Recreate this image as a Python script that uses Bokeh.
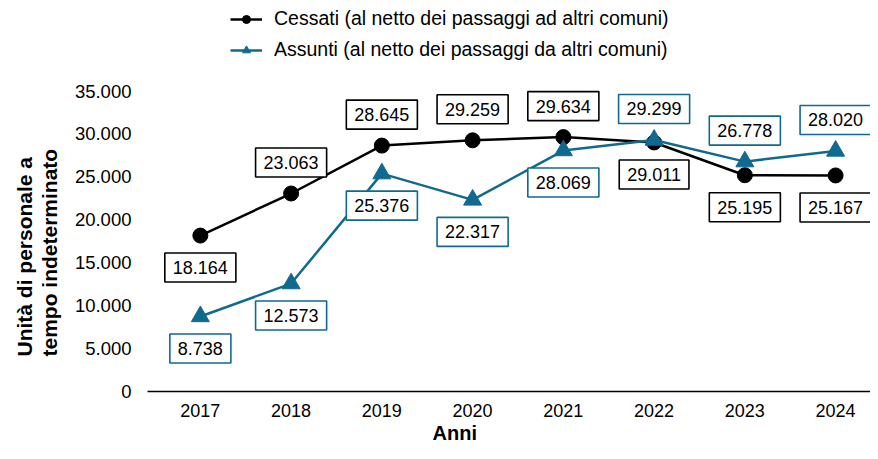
from bokeh.plotting import figure
from bokeh.models import (ColumnDataSource, Label, Legend, LegendItem, FixedTicker,
                          Title)
from bokeh.embed import file_html
from bokeh.resources import INLINE

anni = [2017, 2018, 2019, 2020, 2021, 2022, 2023, 2024]
cessati = [18164, 23063, 28645, 29259, 29634, 29011, 25195, 25167]
assunti = [8738, 12573, 25376, 22317, 28069, 29299, 26778, 28020]
cessati_side = ["below", "above", "above", "above", "above", "below", "below", "below"]
assunti_side = ["below", "below", "below", "below", "below", "above", "above", "above"]
y_ticks = [0, 5000, 10000, 15000, 20000, 25000, 30000, 35000]

nome_cessati = "Cessati (al netto dei passaggi ad altri comuni)"
nome_assunti = "Assunti (al netto dei passaggi da altri comuni)"
titolo_y = "Unità di personale a\ntempo indeterminato"
titolo_x = "Anni"

BLUE = "#106a8f"
FONT = "Liberation Sans"

# layout (pixels)
W, H = 870, 443
FRAME_L = 145
FRAME_B = 393          # expected frame bottom (from top)
TOP_TICK_PX = 91       # where 35.000 sits
FIRST_PX, LAST_PX = 198, 835

def fmt(v):
    return f"{v:,}".replace(",", ".")

px_year = (LAST_PX - FIRST_PX) / 7.0
x0 = 2017 - (FIRST_PX - FRAME_L) / px_year
x1 = 2024 + (W - LAST_PX) / px_year
y1 = 35000 * FRAME_B / (FRAME_B - TOP_TICK_PX)

p = figure(width=W, height=H, output_backend="svg", toolbar_location=None,
           x_range=(x0, x1), y_range=(0, y1),
           min_border_left=FRAME_L, min_border_right=0, min_border_top=0,
           min_border_bottom=H - FRAME_B)
p.outline_line_color = None
p.grid.visible = False
p.background_fill_color = "white"

sc = ColumnDataSource(dict(x=anni, y=cessati))
sa = ColumnDataSource(dict(x=anni, y=assunti))

lc = p.line("x", "y", source=sc, line_color="black", line_width=2.5)
mc = p.scatter("x", "y", source=sc, marker="circle", size=15, color="black")
la = p.line("x", "y", source=sa, line_color=BLUE, line_width=2.5)
ma = p.scatter("x", "y", source=sa, marker="triangle", size=18, color=BLUE)

for vals, sides, col in ((cessati, cessati_side, "black"), (assunti, assunti_side, BLUE)):
    for xv, yv, sd in zip(anni, vals, sides):
        lab = Label(x=xv, y=yv, text=fmt(yv), y_offset=(-32 if sd == "below" else 31),
                    text_align="center", text_baseline="middle",
                    text_font=FONT, text_font_size="18px", text_color="black",
                    border_line_color=col, border_line_width=1.6,
                    background_fill_color="white", padding=8)
        p.add_layout(lab)

# axes
p.xaxis.ticker = FixedTicker(ticks=anni)
p.xaxis.major_tick_line_color = None
p.xaxis.minor_tick_line_color = None
p.xaxis.axis_line_color = "black"
p.xaxis.axis_line_width = 1.5
p.xaxis.major_label_text_font = FONT
p.xaxis.major_label_text_font_size = "18px"
p.xaxis.major_label_text_color = "black"
p.xaxis.major_label_standoff = 6

p.yaxis.ticker = FixedTicker(ticks=y_ticks)
p.yaxis.major_label_overrides = {t: fmt(t) for t in y_ticks}
p.yaxis.axis_line_color = None
p.yaxis.major_tick_line_color = None
p.yaxis.minor_tick_line_color = None
p.yaxis.major_label_text_font = FONT
p.yaxis.major_label_text_font_size = "18.5px"
p.yaxis.major_label_text_color = "black"
p.yaxis.major_label_standoff = 10

tx = Title(text=titolo_x, align="left", offset=285, standoff=0, text_font=FONT,
           text_font_size="20px", text_font_style="bold", text_color="black")
p.add_layout(tx, "below")
ty = Title(text=titolo_y, align="left", offset=35, standoff=21, text_font=FONT,
           text_font_size="21px", text_font_style="bold", text_color="black",
           text_line_height=1.1)
p.add_layout(ty, "left")

legend = Legend(items=[LegendItem(label=nome_cessati, renderers=[lc, mc]),
                       LegendItem(label=nome_assunti, renderers=[la, ma])],
                location=(83, FRAME_B - 63), orientation="vertical",
                label_text_font=FONT, label_text_font_size="19.5px",
                label_text_color="black", glyph_width=32, glyph_height=20,
                label_height=20, spacing=8, padding=0, margin=0,
                label_standoff=12, border_line_color=None,
                background_fill_alpha=0)
p.add_layout(legend, "center")

open("out.html", "w").write(file_html(p, INLINE))
